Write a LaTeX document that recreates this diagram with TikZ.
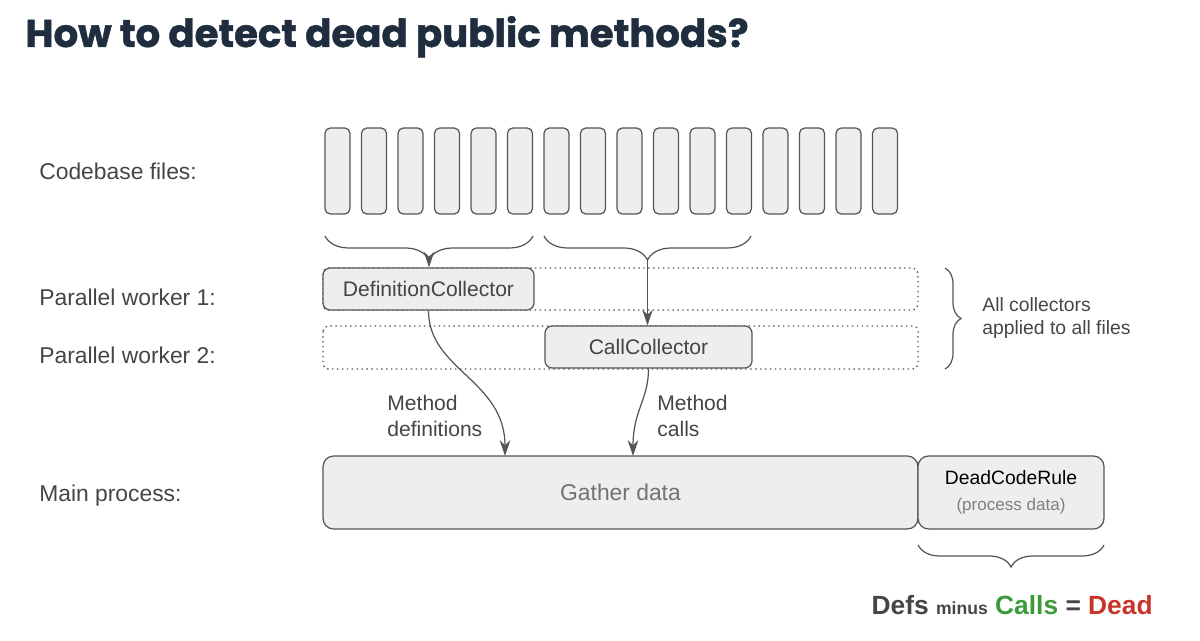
\documentclass[tikz,border=0pt]{standalone}
\usepackage{fontspec}
\setmainfont{Liberation Sans}
\newfontfamily\titlefont{Poppins}[BoldFeatures={FakeBold=1.2}]
\usetikzlibrary{arrows.meta}
\usetikzlibrary{decorations.pathreplacing}

\definecolor{ink}{HTML}{555555}
\definecolor{boxfill}{HTML}{EEEEEE}
\definecolor{navy}{HTML}{1F2D3F}
\definecolor{txt}{HTML}{454545}
\definecolor{okgreen}{HTML}{3D9A3A}
\definecolor{deadred}{HTML}{C6342A}

\tikzset{
	file/.style={draw=ink, fill=boxfill, rounded corners=3pt, line width=0.7pt,
		minimum width=0.5cm, minimum height=1.72cm, inner sep=0pt},
	collector/.style={draw=ink, fill=boxfill, rounded corners=4pt, line width=0.7pt,
		minimum height=0.84cm, text=txt, font=\fontsize{12}{14}\selectfont},
	lane/.style={draw=ink, dotted, line width=0.8pt, rounded corners=3pt},
	rowlabel/.style={anchor=base west, inner sep=0pt, text=txt, font=\fontsize{13}{15}\selectfont},
	flowlabel/.style={anchor=west, inner sep=0pt, align=left, text=txt, font=\fontsize{12}{14.5}\selectfont},
	flow/.style={draw=ink, line width=0.7pt, -{Stealth[length=9pt, width=6pt]}},
	curly/.style={draw=ink, line width=0.7pt, decorate, decoration={brace, amplitude=#1}},
}

\begin{document}
\begin{tikzpicture}[x=0.02cm, y=-0.02cm]
	\useasboundingbox (0,0) rectangle (1200,641);

	% title
	\node[anchor=base west, inner sep=0pt, text=navy, font=\titlefont\bfseries\fontsize{22}{26}\selectfont]
		(title) at (25,47) {How to detect dead public methods?};

	% row labels
	\node[rowlabel] (lfiles) at (39,180) {Codebase files:};
	\node[rowlabel] (lwork1) at (39,306) {Parallel worker 1:};
	\node[rowlabel] (lwork2) at (39,364) {Parallel worker 2:};
	\node[rowlabel] (lmain) at (39,501) {Main process:};

	% files
	\foreach \i in {1,...,16}
		\node[file] (f\i) at ({337.5+(\i-1)*36.5},171) {};

	% braces under the files
	\draw[curly=0.48cm, decoration={mirror}] (325,236) -- (533,236);
	\draw[curly=0.48cm, decoration={mirror}] (544,236) -- (751,236);
	\coordinate (b1tip) at (429,260);
	\coordinate (b2tip) at (647.5,260);

	% worker lanes
	\draw[lane] (323,268) rectangle (918,310);
	\draw[lane] (323,326) rectangle (918,369);

	\node[collector, minimum width=4.22cm] (defc) at (428.5,289) {DefinitionCollector};
	\node[collector, minimum width=4.14cm] (callc) at (648.5,347) {CallCollector};

	\draw[flow] (b1tip) -- (b1tip |- defc.north);
	\draw[flow] (b2tip) -- (b2tip |- callc.north);

	\draw[curly=0.32cm] (945,268) -- (945,369);
	\node[anchor=west, inner sep=0pt, align=left, text=txt, font=\fontsize{11}{13}\selectfont]
		(allnote) at (982,318) {All collectors\\applied to all files};

	% main process
	\node[draw=ink, fill=boxfill, rounded corners=6pt, line width=0.7pt,
		minimum width=11.9cm, minimum height=1.46cm, text=black!55,
		font=\fontsize{13}{15}\selectfont] (gather) at (620.5,492.5) {Gather data};
	\node[draw=ink, fill=boxfill, rounded corners=6pt, line width=0.7pt,
		minimum width=3.72cm, minimum height=1.46cm, align=center,
		font=\fontsize{11}{15}\selectfont] (rule) at (1011,492.5)
		{DeadCodeRule\\{\fontsize{9.7}{11}\selectfont\color{black!50}(process data)}};

	\coordinate (defin) at (505,456);
	\coordinate (callin) at (633,456);
	\draw[flow] (defc.south) .. controls (428.5,370) and (505,380) .. (defin);
	\draw[flow] (callc.south) .. controls (648.5,400) and (633,410) .. (callin);
	\node[flowlabel] (ldefs) at (387,416) {Method\\definitions};
	\node[flowlabel] (lcalls) at (657,416) {Method\\calls};

	\draw[curly=0.44cm, decoration={mirror}] (918,545) -- (1104,545);

	\node[anchor=east, inner sep=0pt, font=\bfseries\fontsize{15}{17}\selectfont] (formula) at (1153,605)
		{\color{txt}Defs {\fontsize{10}{12}\selectfont minus} \color{okgreen}Calls
		\color{txt}= \color{deadred}Dead};
\end{tikzpicture}
\end{document}
